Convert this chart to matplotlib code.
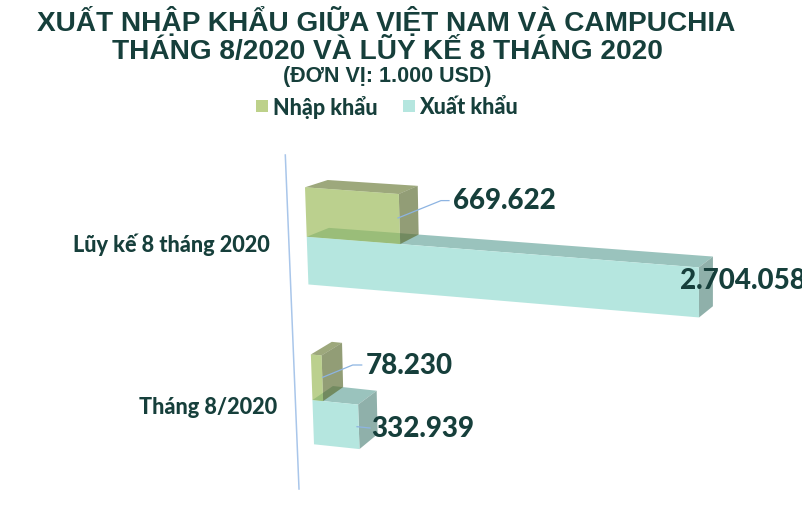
import numpy as np
import matplotlib
matplotlib.use("Agg")
import matplotlib.pyplot as plt
from matplotlib.patches import Polygon, Rectangle

# ---------- data ----------
categories = ["Lũy kế 8 tháng 2020", "Tháng 8/2020"]
nhap_khau = [669622, 78230]
xuat_khau = [2704058, 332939]
nhap_labels = ["669.622", "78.230"]
xuat_labels = ["2.704.058", "332.939"]
series_names = ["Nhập khẩu", "Xuất khẩu"]
title_lines = ["XUẤT NHẬP KHẨU GIỮA VIỆT NAM VÀ CAMPUCHIA",
               "THÁNG 8/2020 VÀ LŨY KẾ 8 THÁNG 2020",
               "(ĐƠN VỊ: 1.000 USD)"]

# ---------- style ----------
INK = "#163f3b"
LINE = "#a9c6ea"
LEADER = "#8db4e2"
GREEN = dict(front="#9bbb59", top="#6f7f3e", side="#5f6f35", alpha=0.68)
TEAL = dict(front="#b5e6df", top="#9ac3bd", side="#8fb0aa", alpha=1.0)
FONT = ["Lato", "Noto Sans", "DejaVu Sans"]
TITLE_FONT = ["Liberation Sans", "DejaVu Sans"]

VMAX = 2704058.0
# band edges (fraction of the plot height) for the two categories, each with two bars
BANDS = [((0.0, 0.1895), (0.1895, 0.3735)),
         ((0.646, 0.825), (0.825, 1.0))]


def homography(dst):
    """Projective map of the unit square onto the four pixel corners."""
    src = [(0, 0), (0, 1), (1, 0), (1, 1)]
    A, b = [], []
    for (s, t), (x, y) in zip(src, dst):
        A.append([s, t, 1, 0, 0, 0, -s * x, -t * x]); b.append(x)
        A.append([0, 0, 0, s, t, 1, -s * y, -t * y]); b.append(y)
    h = np.append(np.linalg.solve(np.array(A, float), np.array(b, float)), 1).reshape(3, 3)

    def project(v, u):
        p = h @ np.array([v / VMAX, u, 1.0])
        return p[:2] / p[2]
    return project


front = homography([(305, 187.3), (314, 444.3), (698.5, 215.5), (700, 485)])
back = homography([(327.7, 180), (334, 429), (713, 205), (712.7, 473)])

fig = plt.figure(figsize=(8.02, 5.21), dpi=100, facecolor="white")
ax = fig.add_axes([0, 0, 1, 1])
ax.set_xlim(0, 802)
ax.set_ylim(521, 0)
ax.axis("off")


def bar(value, band, st, z):
    u0, u1 = band
    ft0, ft1 = front(0, u0), front(value, u0)
    fb0, fb1 = front(0, u1), front(value, u1)
    bt0, bt1 = back(0, u0), back(value, u0)
    bb1 = back(value, u1)
    a = st["alpha"]
    kw = dict(lw=0, alpha=a, joinstyle="miter")
    ax.add_patch(Polygon([ft0, ft1, bt1, bt0], fc=st["top"], zorder=z, **kw))
    ax.add_patch(Polygon([ft1, fb1, bb1, bt1], fc=st["side"], zorder=z, **kw))
    ax.add_patch(Polygon([ft0, ft1, fb1, fb0], fc=st["front"], zorder=z + 0.1, **kw))


# axis line
ax.plot([285.3, 299], [155, 489], color=LINE, lw=1.1, zorder=1)

# teal bars go first; the translucent green bars lie over them
for i in range(len(categories)):
    bar(xuat_khau[i], BANDS[i][1], TEAL, 2)
for i in range(len(categories)):
    bar(nhap_khau[i], BANDS[i][0], GREEN, 3)

# leader lines
for xs, ys in [([398, 441, 449], [218, 200.6, 200.6]),
               ([322.7, 352.7, 361.7], [377.3, 365, 365]),
               ([357, 370], [426.7, 428])]:
    ax.plot(xs, ys, color=LEADER, lw=0.9, zorder=6)

# data labels
lab = dict(family=FONT, fontweight="black", fontsize=20, color=INK, va="center", ha="left", zorder=7)
ax.text(453, 201, nhap_labels[0], **lab)
ax.text(680, 281, xuat_labels[0], clip_on=True, **lab)
ax.text(366, 366, nhap_labels[1], **lab)
ax.text(371, 429, xuat_labels[1], **lab)

# category labels
cat = dict(family=FONT, fontweight="black", fontsize=15.6, color=INK, va="center", ha="right")
ax.text(270, 245, categories[0], **cat)
ax.text(277, 408, categories[1], **cat)

# title
ax.text(386, 31, title_lines[0], family=TITLE_FONT, fontweight="bold", fontsize=20.2, color=INK, ha="center", va="baseline")
ax.text(387, 59, title_lines[1], family=TITLE_FONT, fontweight="bold", fontsize=20.2, color=INK, ha="center", va="baseline")
ax.text(387, 82, title_lines[2], family=TITLE_FONT, fontweight="bold", fontsize=15.5, color=INK, ha="center", va="baseline")

# legend
for x0, tx, name, st in [(256, 273, series_names[0], "#bdd18a"), (403, 419, series_names[1], "#b5e6df")]:
    ax.add_patch(Rectangle((x0, 100), 12, 12, fc=st, lw=0))
    ax.text(tx, 108, name, family=FONT, fontweight="black", fontsize=15.5, color=INK, ha="left", va="center")

fig.savefig("out.png", dpi=100, facecolor="white")
